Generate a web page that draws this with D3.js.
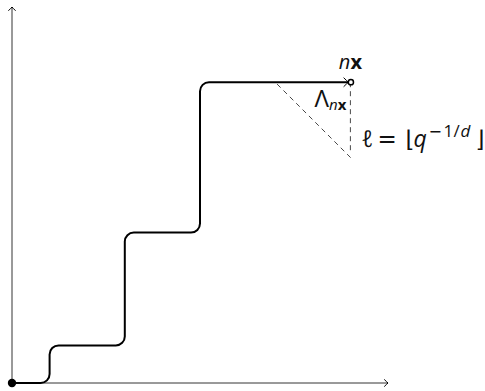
<!DOCTYPE html>
<html>
<head>
<meta charset="utf-8">
<script src="https://cdn.jsdelivr.net/npm/d3@7"></script>
<style>
  body { margin: 0; background: #fff; }
  text { font-family: "Open Sans", "DejaVu Sans", sans-serif; fill: #111; }
</style>
</head>
<body>
<div id="chart"></div>
<script>
// staircase corners (lattice units)
const stepX = [0, 1, 1, 3, 3, 5, 5, 9];
const stepY = [0, 0, 1, 1, 4, 4, 8, 8];
// dashed triangle under the end point
const dashVert = [[9, 8], [9, 6.15]];
const dashDiag = [[7.05, 7.95], [9.05, 5.95]];
const axisMax = 10;

const width = 485;
const height = 391;

const x = d3.scaleLinear().domain([0, axisMax]).range([12, 388]);
const y = d3.scaleLinear().domain([0, axisMax]).range([383, 7]);

const svg = d3.select("#chart")
    .append("svg")
    .attr("width", width)
    .attr("height", height);

// chevron arrow heads like tikz "->"
const defs = svg.append("defs");
function arrowMarker(id, size) {
    defs.append("marker")
        .attr("id", id)
        .attr("markerUnits", "userSpaceOnUse")
        .attr("viewBox", "-10 -10 20 20")
        .attr("markerWidth", 20)
        .attr("markerHeight", 20)
        .attr("refX", 0)
        .attr("refY", 0)
        .attr("orient", "auto")
      .append("path")
        .attr("d", `M${-size},${-size * 0.95} Q${-size * 0.25},${-size * 0.2} 0,0 Q${-size * 0.25},${size * 0.2} ${-size},${size * 0.95}`)
        .attr("fill", "none")
        .attr("stroke", "#000")
        .attr("stroke-width", 1)
        .attr("stroke-linecap", "round");
}
arrowMarker("axisArrow", 3.5);
arrowMarker("pathArrow", 4.5);

// axes
svg.append("line")
    .attr("x1", x(0)).attr("y1", y(0))
    .attr("x2", x(axisMax)).attr("y2", y(0))
    .attr("stroke", "#000").attr("stroke-width", 0.8)
    .attr("marker-end", "url(#axisArrow)");
svg.append("line")
    .attr("x1", x(0)).attr("y1", y(0))
    .attr("x2", x(0)).attr("y2", y(axisMax))
    .attr("stroke", "#000").attr("stroke-width", 0.8)
    .attr("marker-end", "url(#axisArrow)");

// dashed lines
[dashVert, dashDiag].forEach(seg => {
    svg.append("line")
        .attr("x1", x(seg[0][0])).attr("y1", y(seg[0][1]))
        .attr("x2", x(seg[1][0])).attr("y2", y(seg[1][1]))
        .attr("stroke", "#333")
        .attr("stroke-width", 0.9)
        .attr("stroke-dasharray", "5,4");
});

// staircase with rounded corners
const pts = stepX.map((v, i) => [x(v), y(stepY[i])]);
const r = 9;
const p = d3.path();
p.moveTo(pts[0][0], pts[0][1]);
for (let i = 1; i < pts.length - 1; i++) {
    p.arcTo(pts[i][0], pts[i][1], pts[i + 1][0], pts[i + 1][1], r);
}
p.lineTo(pts[pts.length - 1][0] - 2, pts[pts.length - 1][1]);
svg.append("path")
    .attr("d", p.toString())
    .attr("fill", "none")
    .attr("stroke", "#000")
    .attr("stroke-width", 2)
    .attr("marker-end", "url(#pathArrow)");

// end point circle and origin dot
const last = pts[pts.length - 1];
svg.append("circle")
    .attr("cx", last[0] + 0.5).attr("cy", last[1])
    .attr("r", 2.6)
    .attr("fill", "#fff")
    .attr("stroke", "#000")
    .attr("stroke-width", 1.5);
svg.append("circle")
    .attr("cx", x(0)).attr("cy", y(0))
    .attr("r", 4.2)
    .attr("fill", "#000");

// labels
const nx = svg.append("text")
    .attr("x", last[0])
    .attr("y", last[1] - 13)
    .attr("text-anchor", "middle")
    .style("font-size", "20px");
nx.append("tspan").attr("font-style", "italic").text("n");
nx.append("tspan").attr("font-weight", "bold").text("x");

const lam = svg.append("text")
    .attr("x", last[0] - 4)
    .attr("y", last[1] + 25)
    .attr("text-anchor", "end")
    .style("font-size", "24px");
lam.append("tspan").text("Λ");
lam.append("tspan").attr("dy", 3).attr("font-style", "italic").style("font-size", "15px").text("n");
lam.append("tspan").attr("font-weight", "bold").style("font-size", "15px").text("x");

const lx = last[0] + 11;
const ly = last[1] + 65;
const ell = svg.append("text")
    .attr("y", ly)
    .style("font-size", "23px");
ell.append("tspan").attr("x", lx).attr("font-style", "italic").text("ℓ");
ell.append("tspan").attr("x", lx + 16).style("font-family", "DejaVu Sans").text("=");
ell.append("tspan").attr("x", lx + 44).style("font-family", "DejaVu Sans").text("⌊");
ell.append("tspan").attr("x", lx + 52).attr("font-style", "italic").text("q");
ell.append("tspan").attr("x", lx + 67).attr("dy", -10).style("font-family", "DejaVu Sans").style("font-size", "16px").text("−");
ell.append("tspan").attr("x", lx + 82).style("font-size", "17px").text("1");
ell.append("tspan").attr("x", lx + 92).style("font-size", "17px").text("/");
ell.append("tspan").attr("x", lx + 99).attr("font-style", "italic").style("font-size", "17px").text("d");
ell.append("tspan").attr("x", lx + 114).attr("dy", 10).style("font-family", "DejaVu Sans").text("⌋");
</script>
</body>
</html>
